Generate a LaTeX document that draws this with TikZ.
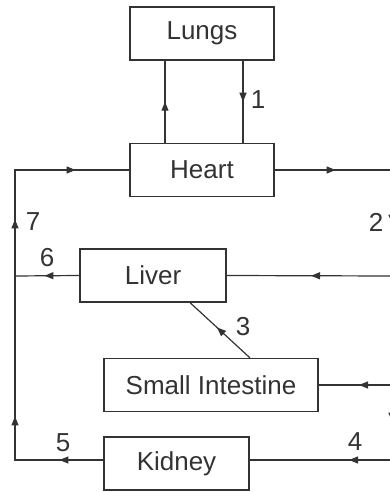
\documentclass[tikz,border=0pt]{standalone}
\usepackage{fontspec}
\setmainfont{Liberation Sans}
\usetikzlibrary{arrows.meta,decorations.markings}
\definecolor{ink}{HTML}{333333}

\tikzset{
  organ/.style={rectangle, draw=ink, line width=1.2pt, minimum height=53pt, inner sep=0pt,
    text=ink, font=\fontsize{26}{29}\selectfont},
  vessel/.style={draw=ink, line width=1.2pt},
  tip/.style={postaction={decorate, decoration={markings,
    mark=at position #1 with {\arrow[ink]{Triangle[length=9pt,width=7pt]}}}}},
  num/.style={text=ink, inner sep=0pt, font=\fontsize{26}{29}\selectfont}
}

\begin{document}
\begin{tikzpicture}[x=1pt, y=-1pt]
      \useasboundingbox (0,0) rectangle (390,492);

      \node (lungs) [organ, minimum width=144pt] at (202,33.5) {Lungs};
      \node (heart) [organ, minimum width=144pt] at (202,170) {Heart};
      \node (liver) [organ, minimum width=146pt] at (153,275.5) {Liver};
      \node (intestine) [organ, minimum width=214pt] at (211,385) {Small Intestine};
      \node (kidney) [organ, minimum width=145pt] at (176.5,463.5) {Kidney};

      \coordinate (lefttop) at (15,170);
      \coordinate (leftliver) at (15,276);
      \coordinate (leftbot) at (15,460);
      \coordinate (righttop) at (392,170);
      \coordinate (rightliver) at (392,276);
      \coordinate (rightgut) at (392,385);
      \coordinate (rightbot) at (392,460);

      % heart and lungs
      \draw[vessel, tip=0.5] ([xshift=-37pt]heart.north) -- ([xshift=-37pt]lungs.south);
      \draw[vessel, tip=0.5] ([xshift=41pt]lungs.south) -- ([xshift=41pt]heart.north);

      % out of the heart, down the right side
      \draw[vessel, tip=61pt, tip=171pt, tip=369pt] (heart.east) -- (righttop) -- (rightbot);
      \draw[vessel, tip=81pt] (rightliver) -- (liver.east);
      \draw[vessel, tip=33pt] (rightgut) -- (intestine.east);
      \draw[vessel, tip=43pt] (rightbot) -- ([yshift=3.5pt]kidney.east);
      \draw[vessel, tip=0.55] ([xshift=39pt]intestine.north) -- ([xshift=37pt]liver.south);

      % back up the left side
      \draw[vessel, tip=35pt] (liver.west) -- (leftliver);
      \draw[vessel, tip=44pt, tip=132pt, tip=329pt, tip=439pt]
        ([yshift=3.5pt]kidney.west) -- (leftbot) -- (lefttop) -- (heart.west);

      \node (n1) [num] at (258,100) {1};
      \node (n2) [num] at (376,222) {2};
      \node (n3) [num] at (243,327) {3};
      \node (n4) [num] at (355,442) {4};
      \node (n5) [num] at (63,443) {5};
      \node (n6) [num] at (47,258) {6};
      \node (n7) [num] at (33,222) {7};
\end{tikzpicture}
\end{document}
